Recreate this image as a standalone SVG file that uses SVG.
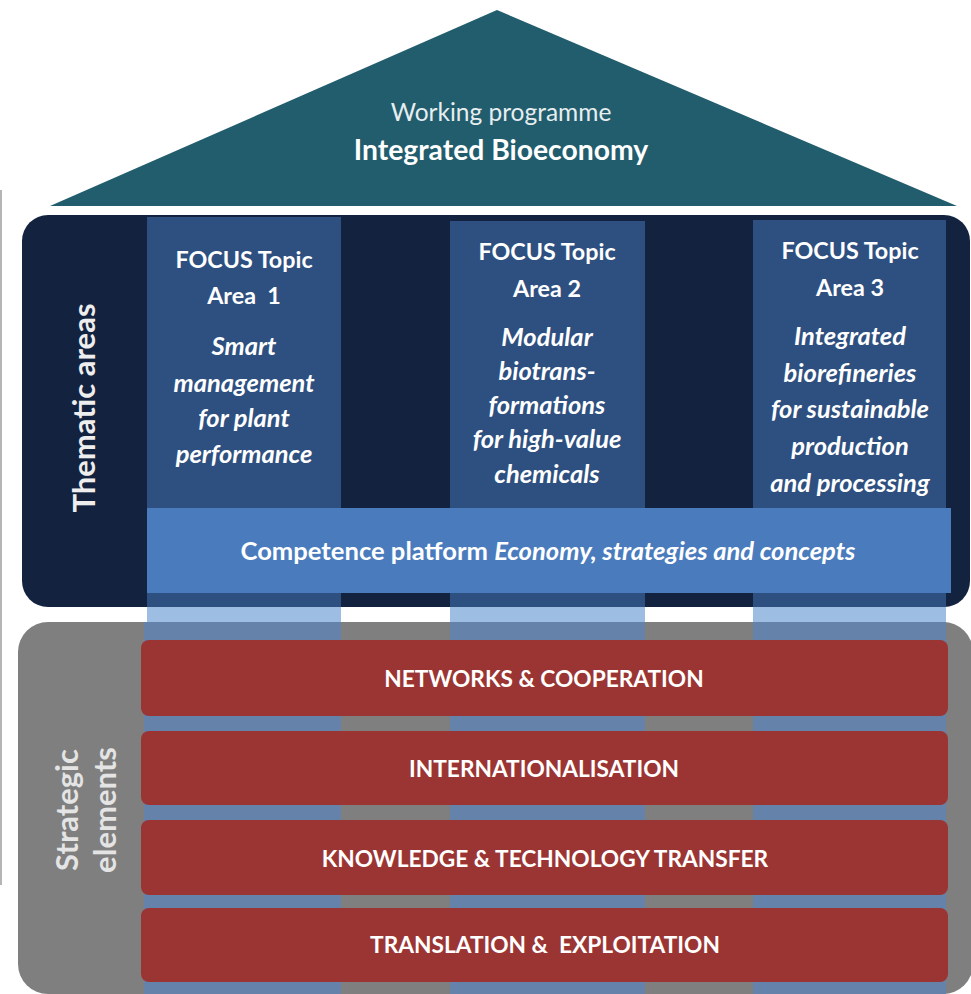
<svg xmlns="http://www.w3.org/2000/svg" width="971" height="994" viewBox="0 0 971 994">
<style>
text{font-family:Lato,"Open Sans","Liberation Sans",sans-serif;fill:#ffffff;text-anchor:middle}
.b{font-weight:700}
.it{font-weight:700;font-style:italic}
.col{fill:#2e5080}
.lt{fill:#9ebde2}
.st{fill:#6582ab}
.red{fill:#9b3533}
.rt{font-weight:700;font-size:22.7px}
.ft{font-weight:700;font-size:23.3px}
.ct{font-weight:700;font-style:italic;font-size:25.5px}
.side{font-weight:700;font-size:31px;fill:#eeeeee}
</style>
<rect width="971" height="994" fill="#ffffff"/>
<g id="edge"><rect x="0" y="190" width="2" height="695" fill="#b5b5b5"/></g>
<g id="roof">
<polygon points="50,206 497,10 957,206" fill="#215d6d"/>
<text x="501" y="121" style="font-size:24.5px;fill:#e8eef0">Working programme</text>
<text x="501" y="160" class="b" style="font-size:28.3px">Integrated Bioeconomy</text>
</g>
<g id="thematic">
<rect x="22" y="215" width="948" height="392" rx="26" fill="#13233f"/>
<text class="side" transform="translate(95,408) rotate(-90)">Thematic areas</text>
</g>
<g id="topic1">
<rect class="col" x="147" y="217" width="194" height="390"/>
<text class="ft" x="244" y="268">FOCUS Topic</text>
<text class="ft" x="244" y="304" xml:space="preserve">Area  1</text>
<text class="ct" x="244" y="355">Smart</text>
<text class="ct" x="244" y="392">management</text>
<text class="ct" x="244" y="427">for plant</text>
<text class="ct" x="244" y="463">performance</text>
</g>
<g id="topic2">
<rect class="col" x="450" y="221" width="195" height="386"/>
<text class="ft" x="547" y="260">FOCUS Topic</text>
<text class="ft" x="547" y="297">Area 2</text>
<text class="ct" x="547" y="346">Modular</text>
<text class="ct" x="547" y="380">biotrans-</text>
<text class="ct" x="547" y="414">formations</text>
<text class="ct" x="547" y="448">for high-value</text>
<text class="ct" x="547" y="483">chemicals</text>
</g>
<g id="topic3">
<rect class="col" x="753" y="220" width="193" height="387"/>
<text class="ft" x="850" y="259">FOCUS Topic</text>
<text class="ft" x="850" y="296">Area 3</text>
<text class="ct" x="850" y="345">Integrated</text>
<text class="ct" x="850" y="382">biorefineries</text>
<text class="ct" x="850" y="418">for sustainable</text>
<text class="ct" x="850" y="455">production</text>
<text class="ct" x="850" y="492">and processing</text>
</g>
<g id="competence">
<rect x="147" y="508" width="804" height="85" fill="#4a7cbd"/>
<text x="548" y="560" style="font-size:25.6px"><tspan class="b">Competence platform </tspan><tspan class="it">Economy, strategies and concepts</tspan></text>
</g>
<g id="strategic">
<rect class="lt" x="147" y="607" width="194" height="15"/>
<rect class="lt" x="450" y="607" width="195" height="15"/>
<rect class="lt" x="753" y="607" width="193" height="15"/>
<rect x="18" y="622" width="955" height="372" rx="30" fill="#7f7f7f"/>
<rect class="st" x="144" y="622" width="197" height="372"/>
<rect class="st" x="450" y="622" width="195" height="372"/>
<rect class="st" x="753" y="622" width="193" height="372"/>
<text class="side" style="fill:#e4e4e4" transform="translate(78,810) rotate(-90)">Strategic</text>
<text class="side" style="fill:#e4e4e4" transform="translate(116,810) rotate(-90)">elements</text>
</g>
<g id="networks"><rect class="red" x="141" y="640" width="807" height="76" rx="8"/><text class="rt" x="544" y="687">NETWORKS &amp; COOPERATION</text></g>
<g id="internationalisation"><rect class="red" x="141" y="731" width="807" height="74" rx="8"/><text class="rt" x="544" y="777">INTERNATIONALISATION</text></g>
<g id="transfer"><rect class="red" x="141" y="820" width="807" height="75" rx="8"/><text class="rt" x="545" y="867">KNOWLEDGE &amp; TECHNOLOGY TRANSFER</text></g>
<g id="translation"><rect class="red" x="141" y="908" width="807" height="74" rx="8"/><text class="rt" x="545" y="953" xml:space="preserve">TRANSLATION &amp;  EXPLOITATION</text></g>
<g id="connectors"></g>
</svg>
